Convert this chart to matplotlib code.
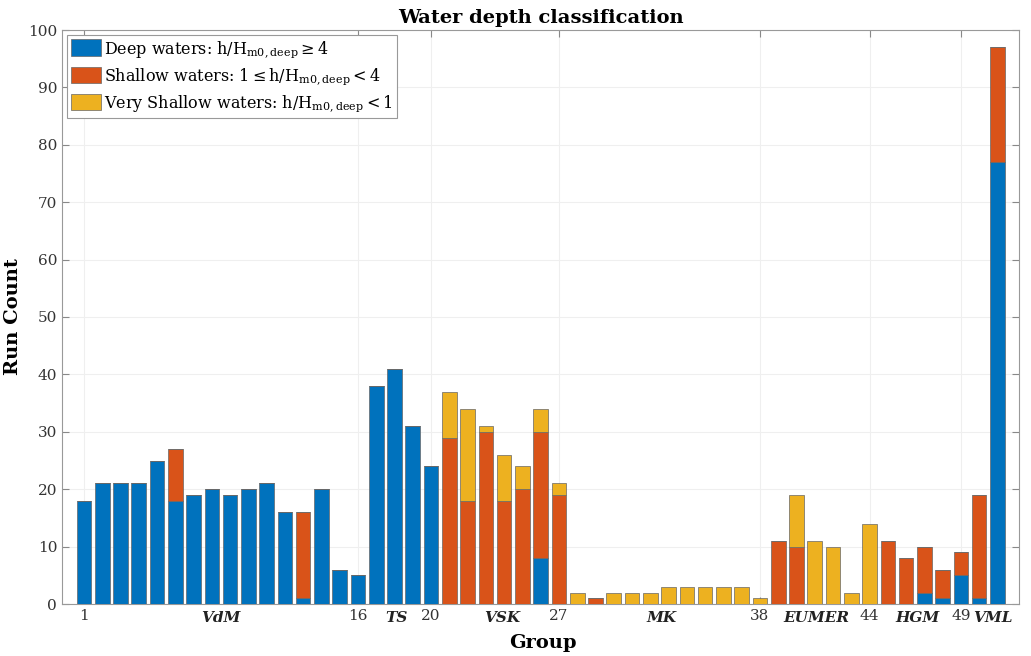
import matplotlib

matplotlib.use("Agg")
import matplotlib.pyplot as plt
import numpy as np

# run counts per group, split by depth class
DEEP = [18, 21, 21, 21, 25, 18, 19, 20, 19, 20, 21, 16, 1, 20, 6, 5, 38, 41, 31, 24,
        0, 0, 0, 0, 0, 8, 0, 0, 0, 0, 0, 0, 0, 0, 0, 0, 0, 0,
        0, 0, 0, 0, 0, 0, 0, 0, 2, 1, 5, 1, 77]
SHALLOW = [0, 0, 0, 0, 0, 9, 0, 0, 0, 0, 0, 0, 15, 0, 0, 0, 0, 0, 0, 0,
           29, 18, 30, 18, 20, 22, 19, 0, 1, 0, 0, 0, 0, 0, 0, 0, 0, 0,
           11, 10, 0, 0, 0, 0, 11, 8, 8, 5, 4, 18, 20]
VERY_SHALLOW = [0, 0, 0, 0, 0, 0, 0, 0, 0, 0, 0, 0, 0, 0, 0, 0, 0, 0, 0, 0,
                8, 16, 1, 8, 4, 4, 2, 2, 0, 2, 2, 2, 3, 3, 3, 3, 3, 1,
                0, 9, 11, 10, 2, 14, 0, 0, 0, 0, 0, 0, 0]

TICKS = [1, 16, 20, 27, 38, 44, 49]
GROUP_NAMES = ["VdM", "TS", "VSK", "MK", "EUMER", "HGM", "VML"]
GROUP_POS = [8.5, 18.1, 23.9, 32.6, 41.1, 46.6, 50.75]

LABELS = [
    r"Deep waters: h/H$_{\mathrm{m0,deep}}$$\geq$4",
    r"Shallow waters: 1$\leq$h/H$_{\mathrm{m0,deep}}$$<$4",
    r"Very Shallow waters: h/H$_{\mathrm{m0,deep}}$$<$1",
]
COLORS = ["#0072BD", "#D95319", "#EDB120"]

plt.rcParams["font.family"] = "DejaVu Serif"
plt.rcParams["mathtext.fontset"] = "dejavuserif"

fig = plt.figure(figsize=(10.31, 6.56), dpi=100)
ax = fig.add_axes([62 / 1031, 1 - 604 / 656, (1019 - 62) / 1031, (604 - 30) / 656])

x = np.arange(1, len(DEEP) + 1)
deep = np.array(DEEP)
shallow = np.array(SHALLOW)
very = np.array(VERY_SHALLOW)

edge = "#666666"
ax.bar(x, deep, 0.8, color=COLORS[0], edgecolor=edge, linewidth=0.5, label=LABELS[0], zorder=3)
ax.bar(x, shallow, 0.8, bottom=deep, color=COLORS[1], edgecolor=edge, linewidth=0.5,
       label=LABELS[1], zorder=3)
ax.bar(x, very, 0.8, bottom=deep + shallow, color=COLORS[2], edgecolor=edge, linewidth=0.5,
       label=LABELS[2], zorder=3)

ax.set_xlim(-0.2, 52.18)
ax.set_ylim(0, 100)
ax.set_yticks(np.arange(0, 101, 10))
ax.set_xticks(TICKS)
ax.tick_params(direction="in", top=True, right=True, length=5, color="#888888",
               labelsize=11, labelcolor="#333333")
ax.grid(True, color="#efefef", linewidth=0.8, zorder=0)
for spine in ax.spines.values():
    spine.set_color("#999999")
    spine.set_linewidth(0.8)

for name, pos in zip(GROUP_NAMES, GROUP_POS):
    ax.text(pos, -1.3, name, ha="center", va="top", fontsize=11, fontweight="bold",
            fontstyle="italic", color="#222222")

ax.set_title("Water depth classification", fontsize=14, fontweight="bold", pad=5)
ax.set_xlabel("Group", fontsize=14, fontweight="bold")
ax.xaxis.set_label_coords(0.503, -0.052, transform=ax.transAxes)
ax.xaxis.label.set_va("top")
ax.set_ylabel("Run Count", fontsize=14, fontweight="bold", labelpad=4)

leg = ax.legend(loc="upper left", fontsize=11.5, fancybox=False, framealpha=1,
                edgecolor="#999999", borderaxespad=0.3, handlelength=1.9,
                handleheight=1.2, handletextpad=0.2, borderpad=0.25, labelspacing=0.4)
leg.get_frame().set_linewidth(0.8)

fig.savefig("out.png", dpi=100)
